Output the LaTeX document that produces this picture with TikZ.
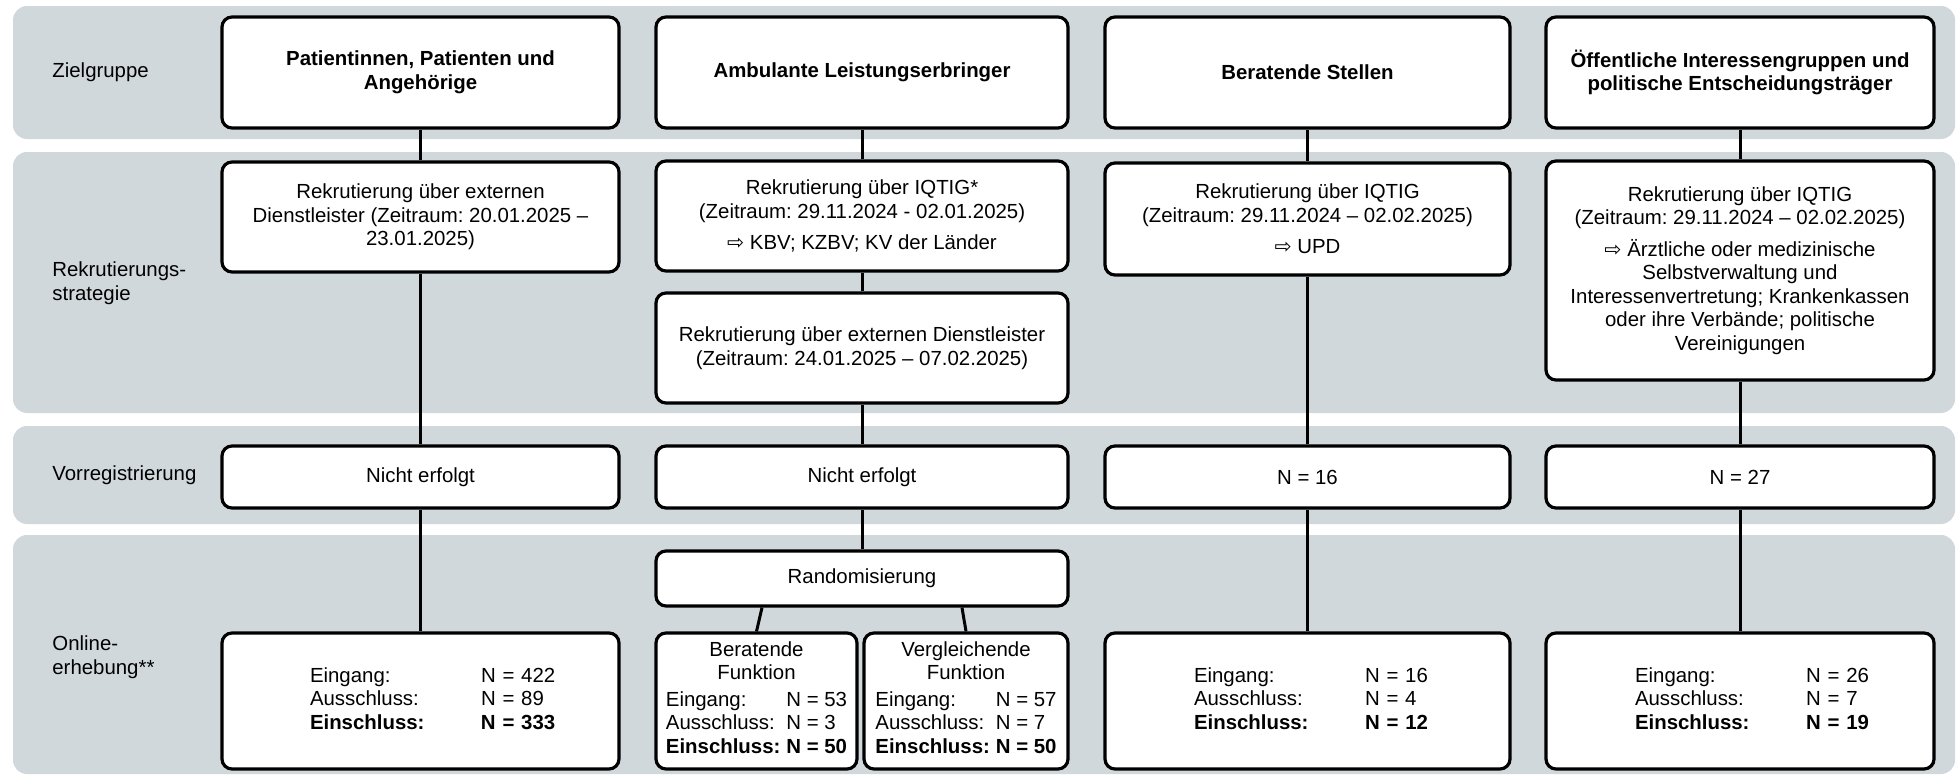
\documentclass[tikz,border=0pt]{standalone}
\usepackage{fontspec}
\setmainfont{Liberation Sans}
\newfontfamily\arrowfont{DejaVu Sans}
\usetikzlibrary{calc}
\definecolor{bandGray}{RGB}{209,216,220}
\newcommand{\flowfont}{\fontsize{10.2}{11.75}\selectfont}
\newcommand{\arrowhint}{{\arrowfont ⇨}}
\frenchspacing
\begin{document}
\begin{tikzpicture}[x=0.5pt,y=-0.5pt,
    bandBg/.style={fill=bandGray,rounded corners=7pt},
    rowLabel/.style={anchor=west,align=left,font=\flowfont,inner sep=0pt},
    flowBox/.style={rectangle,draw=black,line width=1.6pt,rounded corners=5pt,fill=white,align=center,font=\flowfont,inner sep=2pt},
    titleBox/.style={flowBox,font=\flowfont\bfseries,minimum height=55.5pt},
    countBox/.style={flowBox,inner sep=0pt,align=left,minimum height=68pt},
    flowLine/.style={line width=1.5pt},
]
\useasboundingbox (0,0) rectangle (1957,776);
% === Hintergrund ===
\fill[bandBg] (13,6) rectangle (1955,139);
\fill[bandBg] (13,152) rectangle (1955,413);
\fill[bandBg] (13,426) rectangle (1955,524);
\fill[bandBg] (13,535) rectangle (1955,774);
\node[rowLabel] (LZ) at (52,72.5) {Zielgruppe};
\node[rowLabel] (LR) at (52,283) {Rekrutierungs-\\strategie};
\node[rowLabel] (LV) at (52,475) {Vorregistrierung};
\node[rowLabel] (LO) at (52,657) {Online-\\erhebung**};
% === Zielgruppe ===
\node[titleBox,minimum width=198.5pt] (Z1) at (420.5,72.5) {Patientinnen, Patienten und\\Angehörige};
\node[titleBox,minimum width=206pt] (Z2) at (862,72.5) {Ambulante Leistungserbringer};
\node[titleBox,minimum width=202.5pt] (Z3) at (1307.5,72.5) {Beratende Stellen};
\node[titleBox,minimum width=194pt] (Z4) at (1740,72.5) {Öffentliche Interessengruppen und\\politische Entscheidungsträger};
% === Rekrutierungsstrategie ===
\node[flowBox,minimum width=198.5pt,minimum height=55pt] (R1) at (420.5,217) {Rekrutierung über externen\\Dienstleister (Zeitraum: 20.01.2025 –\\23.01.2025)};
\node[flowBox,minimum width=206pt,minimum height=55pt] (R2) at (862,216) {Rekrutierung über IQTIG*\\(Zeitraum: 29.11.2024 - 02.01.2025)\\[4pt]\arrowhint{} KBV; KZBV; KV der Länder};
\node[flowBox,minimum width=206pt,minimum height=55pt] (E2) at (862,348) {Rekrutierung über externen Dienstleister\\(Zeitraum: 24.01.2025 – 07.02.2025)};
\node[flowBox,minimum width=202.5pt,minimum height=56pt] (R3) at (1307.5,219) {Rekrutierung über IQTIG\\(Zeitraum: 29.11.2024 – 02.02.2025)\\[4pt]\arrowhint{} UPD};
\node[flowBox,minimum width=194pt,minimum height=109.5pt] (R4) at (1740,270.5) {Rekrutierung über IQTIG\\(Zeitraum: 29.11.2024 – 02.02.2025)\\[4pt]\arrowhint{} Ärztliche oder medizinische\\Selbstverwaltung und\\Interessenvertretung; Krankenkassen\\oder ihre Verbände; politische\\Vereinigungen};
% === Vorregistrierung ===
\node[flowBox,minimum width=198.5pt,minimum height=31pt] (V1) at (420.5,477) {Nicht erfolgt};
\node[flowBox,minimum width=206pt,minimum height=31pt] (V2) at (862,477) {Nicht erfolgt};
\node[flowBox,minimum width=202.5pt,minimum height=31pt] (V3) at (1307.5,477) {N = 16};
\node[flowBox,minimum width=194pt,minimum height=31pt] (V4) at (1740,477) {N = 27};
% === Online-Erhebung ===
\node[flowBox,minimum width=206pt,minimum height=27.5pt] (RA) at (862,578.5) {Randomisierung};
\node[flowBox,minimum width=100.5pt,minimum height=68pt,inner sep=1pt] (SB) at (756.5,701) {Beratende\\Funktion\\[4pt]\begin{tabular}{@{}l@{\hspace{3pt}}l@{}}Eingang: & N = 53\\ Ausschluss: & N = 3\\ \textbf{Einschluss:} & \textbf{N = 50}\end{tabular}};
\node[flowBox,minimum width=102pt,minimum height=68pt,inner sep=1pt] (SV) at (966,701) {Vergleichende\\Funktion\\[4pt]\begin{tabular}{@{}l@{\hspace{3pt}}l@{}}Eingang: & N = 57\\ Ausschluss: & N = 7\\ \textbf{Einschluss:} & \textbf{N = 50}\end{tabular}};
\node[countBox,minimum width=198.5pt,text width=198.5pt] (O1) at (420.5,701) {\hspace*{44pt}\begin{tabular}{@{}p{85.5pt}@{}l@{}}Eingang: & N = 422\\ Ausschluss: & N = 89\\ \textbf{Einschluss:} & \textbf{N = 333}\end{tabular}};
\node[countBox,minimum width=202.5pt,text width=202.5pt] (O3) at (1307.5,701) {\hspace*{44.5pt}\begin{tabular}{@{}p{85.5pt}@{}l@{}}Eingang: & N = 16\\ Ausschluss: & N = 4\\ \textbf{Einschluss:} & \textbf{N = 12}\end{tabular}};
\node[countBox,minimum width=194pt,text width=194pt] (O4) at (1740,701) {\hspace*{44.5pt}\begin{tabular}{@{}p{85.5pt}@{}l@{}}Eingang: & N = 26\\ Ausschluss: & N = 7\\ \textbf{Einschluss:} & \textbf{N = 19}\end{tabular}};
% === Verbindungen ===
\draw[flowLine] (Z1.south) -- (R1.north);
\draw[flowLine] (R1.south) -- (V1.north);
\draw[flowLine] (V1.south) -- (O1.north);
\draw[flowLine] (Z2.south) -- (R2.north);
\draw[flowLine] (R2.south) -- (E2.north);
\draw[flowLine] (E2.south) -- (V2.north);
\draw[flowLine] (V2.south) -- (RA.north);
\draw[flowLine] ($(RA.south)+(-100,0)$) -- (SB.north);
\draw[flowLine] ($(RA.south)+(100,0)$) -- (SV.north);
\draw[flowLine] (Z3.south) -- (R3.north);
\draw[flowLine] (R3.south) -- (V3.north);
\draw[flowLine] (V3.south) -- (O3.north);
\draw[flowLine] (Z4.south) -- (R4.north);
\draw[flowLine] (R4.south) -- (V4.north);
\draw[flowLine] (V4.south) -- (O4.north);
\end{tikzpicture}
\end{document}
